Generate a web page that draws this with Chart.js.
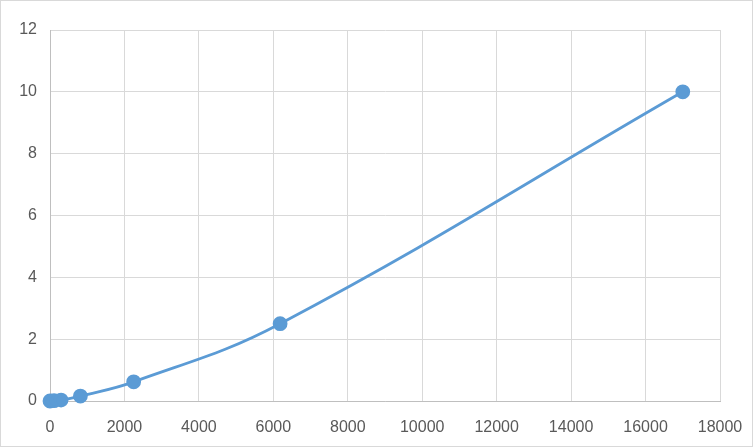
<!DOCTYPE html>
<html><head><meta charset="utf-8">
<script src="https://cdn.jsdelivr.net/npm/chart.js@4/dist/chart.umd.min.js"></script>
<style>html,body{margin:0;padding:0;background:#fff}#wrap{width:753px;height:447px}</style>
</head><body><div id="wrap"><canvas id="c" width="753" height="447"></canvas></div>
<script>
const concentrations = [0, 108, 297, 817, 2248, 6182, 17000];
const responses = [0, 0.01, 0.03, 0.16, 0.62, 2.5, 10];
const xTicks = [0, 2000, 4000, 6000, 8000, 10000, 12000, 14000, 16000, 18000];
const yTicks = [0, 2, 4, 6, 8, 10, 12];

const points = concentrations.map((x, i) => ({x: x, y: responses[i]}));

const frame = {
  id: 'frame',
  beforeDraw(chart) {
    const ctx = chart.ctx;
    ctx.save();
    ctx.fillStyle = '#fff';
    ctx.fillRect(0, 0, chart.width, chart.height);
    ctx.strokeStyle = '#d9d9d9';
    ctx.lineWidth = 1;
    ctx.strokeRect(0.5, 0.5, chart.width - 1, chart.height - 1);
    ctx.restore();
  }
};

new Chart(document.getElementById('c'), {
  type: 'scatter',
  data: { datasets: [{
    data: points,
    showLine: true,
    tension: 0.4,
    clip: false,
    borderColor: '#5b9bd5',
    backgroundColor: '#5b9bd5',
    borderWidth: 2.8,
    pointRadius: 6,
    pointHoverRadius: 6
  }]},
  options: {
    responsive: false,
    animation: false,
    devicePixelRatio: 1,
    layout: { padding: { left: 0, right: 33, top: 30, bottom: 0 } },
    plugins: { legend: { display: false }, tooltip: { enabled: false } },
    scales: {
      x: {
        type: 'linear', min: 0, max: 18000,
        afterBuildTicks: s => { s.ticks = xTicks.map(v => ({value: v})); },
        afterFit: s => { s.height = 46; s.paddingLeft = 0; s.paddingRight = 0; },
        grid: { color: '#d9d9d9', lineWidth: 1, drawTicks: false },
        border: { color: '#bfbfbf', width: 1 },
        ticks: { color: '#595959', font: { family: 'Liberation Sans', size: 16 }, padding: 17, maxRotation: 0, autoSkip: false,
                 callback: v => String(v) }
      },
      y: {
        type: 'linear', min: 0, max: 12,
        afterBuildTicks: s => { s.ticks = yTicks.map(v => ({value: v})); },
        afterFit: s => { s.width = 50; s.paddingTop = 0; s.paddingBottom = 0; },
        grid: { color: '#d9d9d9', lineWidth: 1, drawTicks: false },
        border: { color: '#bfbfbf', width: 1 },
        ticks: { color: '#595959', font: { family: 'Liberation Sans', size: 16 }, padding: 13,
                 callback: v => String(v) }
      }
    }
  },
  plugins: [frame]
});
</script></body></html>
